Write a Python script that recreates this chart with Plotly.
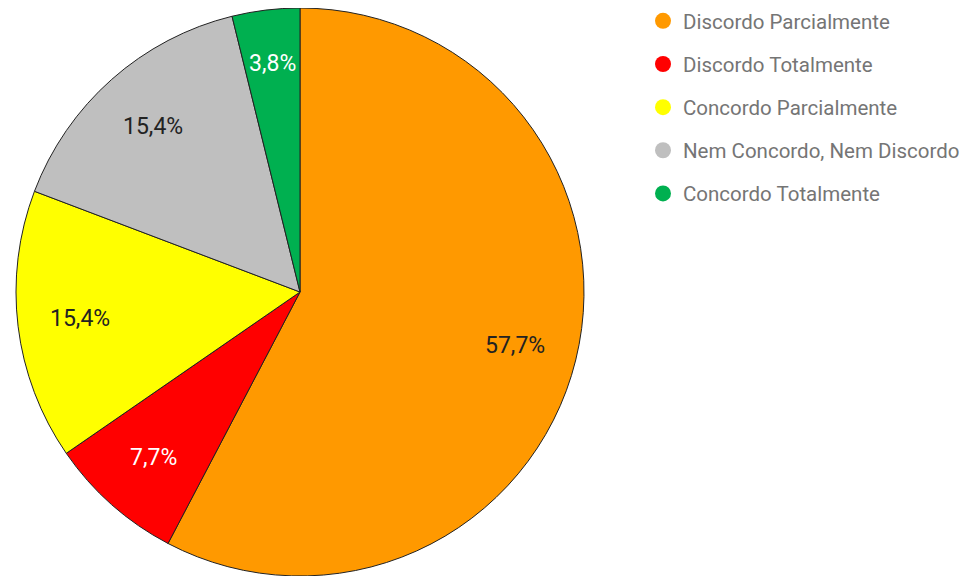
import math
import plotly.graph_objects as go

labels = ["Discordo Parcialmente", "Discordo Totalmente", "Concordo Parcialmente",
          "Nem Concordo, Nem Discordo", "Concordo Totalmente"]
values = [15, 2, 4, 4, 1]
colors = ["#ff9900", "#ff0000", "#ffff00", "#bfbfbf", "#00b050"]
text_colors = ["#222222", "#ffffff", "#222222", "#222222", "#ffffff"]

# figure sized so the page (with the browser's default 8px body margin) fits the window
W, H = 954, 568
cx, cy, r = 292, 284, 284

fig = go.Figure()
fig.add_trace(go.Pie(
    labels=labels, values=values, sort=False, direction="clockwise", rotation=0,
    marker=dict(colors=colors, line=dict(color="#222222", width=1)),
    textinfo="none", showlegend=False, hoverinfo="label+percent",
    domain=dict(x=[(cx - r) / W, (cx + r) / W],
                y=[max(0, (H - cy - r) / H), min(1, (H - cy + r) / H)]),
))
for i, (lab, col) in enumerate(zip(labels, colors)):
    fig.add_trace(go.Scatter(
        x=[None], y=[None], mode="markers", name=lab, legendgroup=f"g{i}",
        marker=dict(color=col, size=20, symbol="circle"), showlegend=True,
    ))

# percentage labels placed along each slice's bisector
total = sum(values)
cum = 0
for v, tc in zip(values, text_colors):
    mid = (cum + v / 2) / total
    cum += v
    ang = math.pi / 2 - 2 * math.pi * mid
    rr = 0.78 * r if v / total > 0.05 else 0.81 * r
    px = cx + rr * math.cos(ang)
    py = cy - rr * math.sin(ang)
    pct = f"{100 * v / total:.1f}".replace(".", ",") + "%"
    fig.add_annotation(x=px / W, y=1 - py / H, xref="paper", yref="paper",
                       xanchor="center", yanchor="middle",
                       text=pct, showarrow=False,
                       font=dict(family="Roboto", size=23, color=tc))

fig.update_layout(
    width=W, height=H, separators=",.",
    margin=dict(l=0, r=0, t=0, b=0, autoexpand=False),
    paper_bgcolor="white", plot_bgcolor="white",
    xaxis=dict(visible=False), yaxis=dict(visible=False),
    legend=dict(x=635 / W, y=1 + 7 / H, xanchor="left", yanchor="top",
                font=dict(family="Roboto", size=20.5, color="#757575"),
                tracegroupgap=13.5, itemsizing="trace"),
    font=dict(family="Roboto"),
)
fig.write_html("out.html")
